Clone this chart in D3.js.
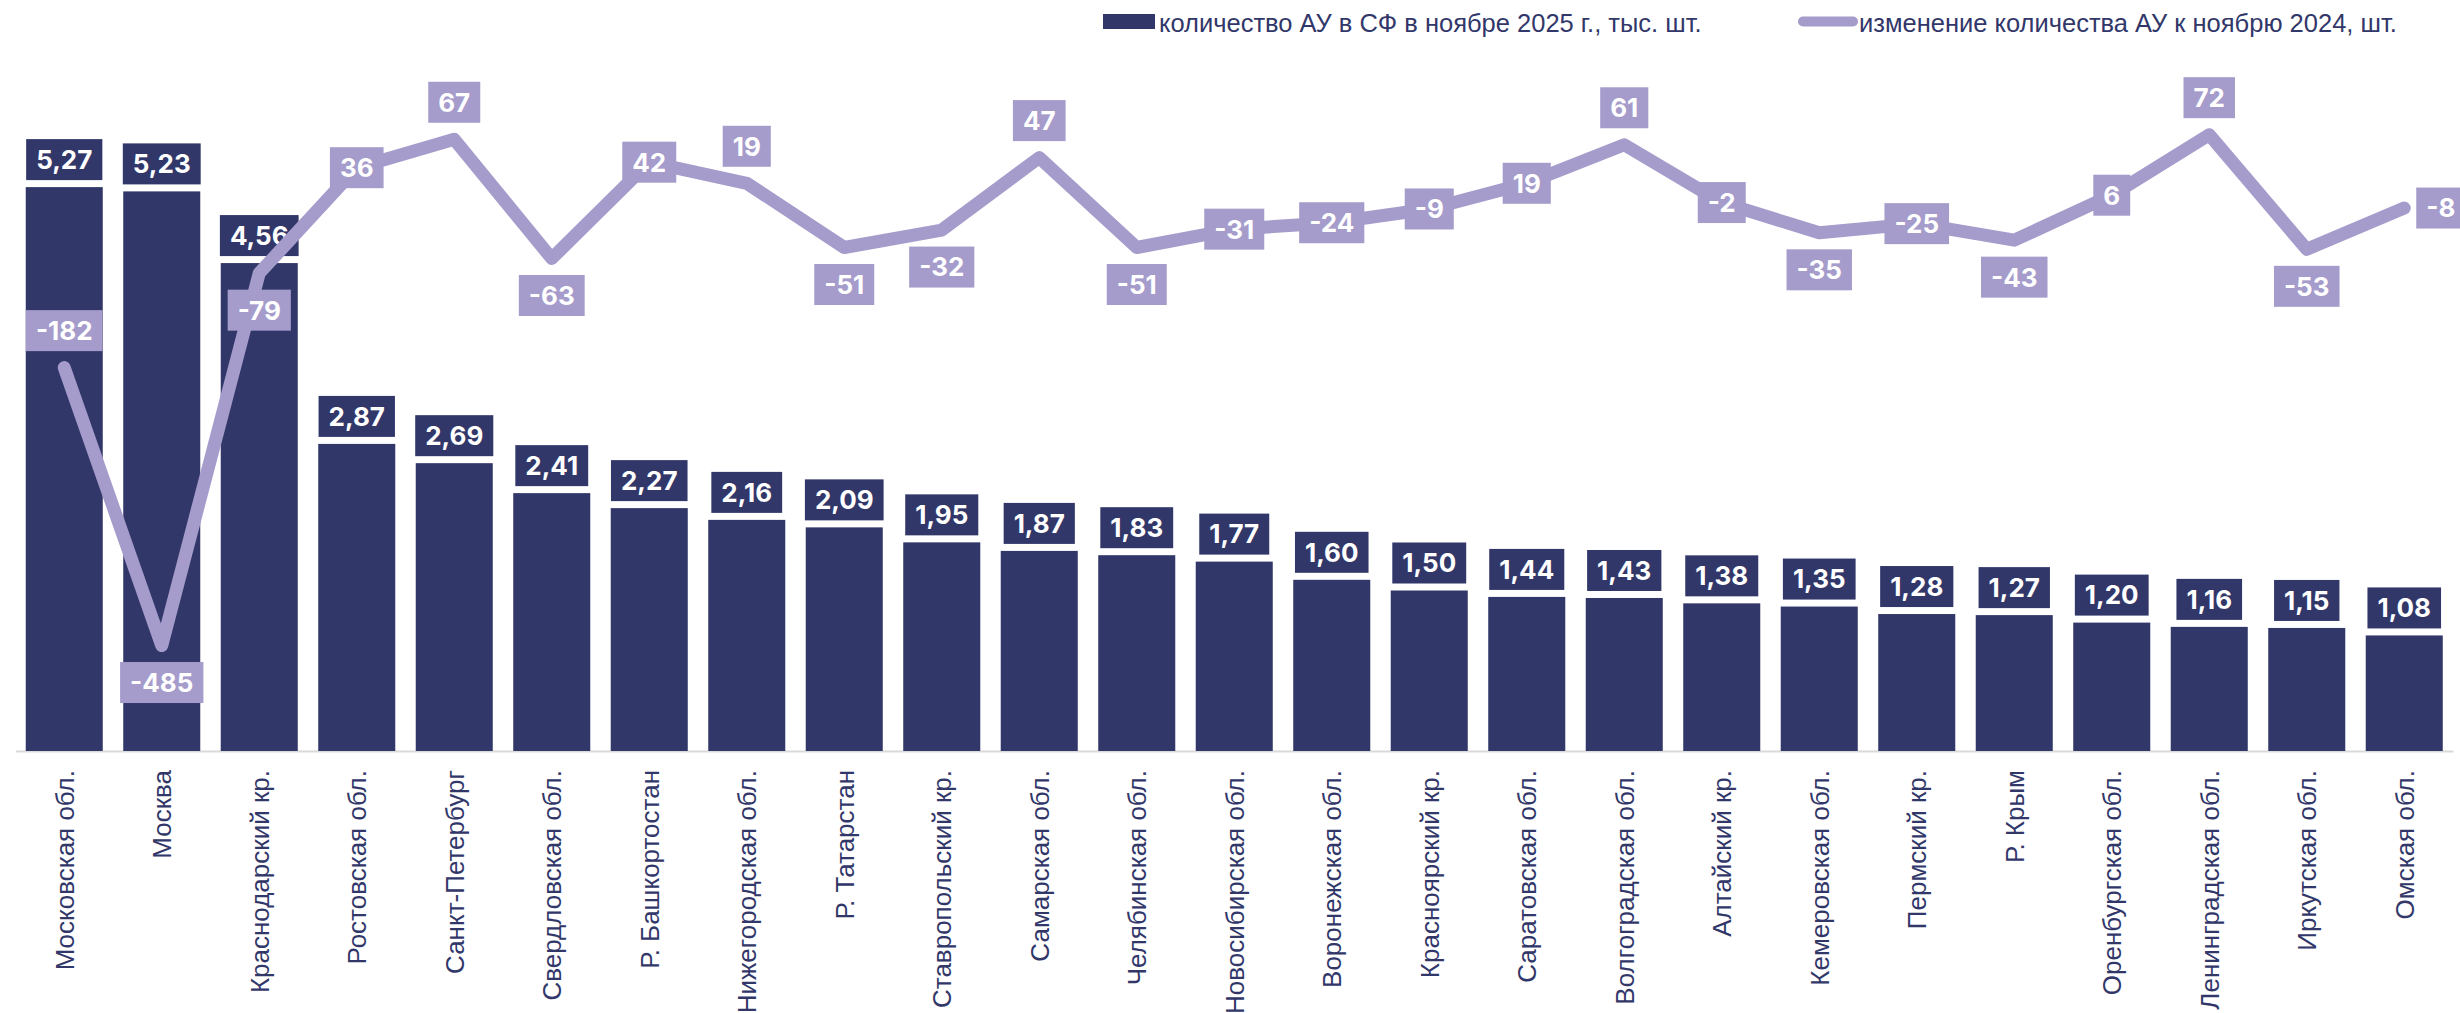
<!DOCTYPE html>
<html>
<head>
<meta charset="utf-8">
<script src="https://cdn.jsdelivr.net/npm/d3@7"></script>
<style>
  html, body { margin: 0; padding: 0; background: #ffffff; }
  svg { display: block; }
</style>
</head>
<body>
<svg id="chart" width="2460" height="1013"></svg>
<script>
const categories = [
  "Московская обл.", "Москва", "Краснодарский кр.", "Ростовская обл.", "Санкт-Петербург",
  "Свердловская обл.", "Р. Башкортостан", "Нижегородская обл.", "Р. Татарстан", "Ставропольский кр.",
  "Самарская обл.", "Челябинская обл.", "Новосибирская обл.", "Воронежская обл.", "Красноярский кр.",
  "Саратовская обл.", "Волгоградская обл.", "Алтайский кр.", "Кемеровская обл.", "Пермский кр.",
  "Р. Крым", "Оренбургская обл.", "Ленинградская обл.", "Иркутская обл.", "Омская обл."
];
const counts = [5.27, 5.23, 4.56, 2.87, 2.69, 2.41, 2.27, 2.16, 2.09, 1.95, 1.87, 1.83, 1.77, 1.60, 1.50,
  1.44, 1.43, 1.38, 1.35, 1.28, 1.27, 1.20, 1.16, 1.15, 1.08];
const changes = [-182, -485, -79, 36, 67, -63, 42, 19, -51, -32, 47, -51, -31, -24, -9,
  19, 61, -2, -35, -25, -43, 6, 72, -53, -8];
const changePlacement = ["above", "below", "below", "center", "above", "below", "center", "above", "below", "below",
  "above", "below", "center", "center", "center", "center", "above", "center", "below", "center",
  "below", "center", "above", "below", "right"];
const seriesNames = ["количество АУ в СФ в ноябре 2025 г., тыс. шт.", "изменение количества АУ к ноябрю 2024, шт."];
const countDomain = [0, 6];
const changeDomain = [-600, 100];

const BAR = "#32376a";
const LINE = "#a59ccb";
const TEXT = "#32376a";

const svg = d3.select("#chart");
const plotTop = 109, plotBottom = 751;

const x = d3.scaleBand().domain(categories).range([15.5, 2453]).paddingInner(0.21).paddingOuter(0.105);
const y = d3.scaleLinear().domain(countDomain).range([plotBottom, plotTop]);
const y2 = d3.scaleLinear().domain(changeDomain).range([plotBottom, plotTop]);
const cx = c => x(c) + x.bandwidth() / 2;
const fmt = v => v.toFixed(2).replace(".", ",");

// axis
const axis = svg.append("g").attr("transform", `translate(0,${plotBottom})`)
  .call(d3.axisBottom(x).tickSize(0).tickSizeOuter(0));
axis.select(".domain").attr("stroke", "#d9d9d9").attr("stroke-width", 2);
axis.selectAll(".tick text")
  .attr("transform", "rotate(-90)")
  .attr("text-anchor", "end")
  .attr("x", -19).attr("y", 0).attr("dy", "0.36em")
  .attr("fill", TEXT)
  .style("font-family", "'Liberation Sans', Arial, sans-serif")
  .style("font-size", "26px");

// bars
svg.append("g").selectAll("rect").data(counts).join("rect")
  .attr("x", (d, i) => x(categories[i]))
  .attr("y", d => y(d))
  .attr("width", x.bandwidth())
  .attr("height", d => y(0) - y(d))
  .attr("fill", BAR);

// bar labels
const boxH = 41, padX = 10;
svg.append("g").selectAll("g").data(counts).join("g").each(function (d, i) {
  const g = d3.select(this);
  const rect = g.append("rect").attr("fill", BAR);
  const t = g.append("text").text(fmt(d))
    .attr("fill", "#ffffff")
    .attr("text-anchor", "middle")
    .style("font-family", "Inter, sans-serif")
    .style("font-weight", 700)
    .style("font-size", "26px");
  const w = t.node().getComputedTextLength() + 2 * padX;
  const bx = cx(categories[i]);
  const boxBottom = y(d) - 7;
  rect.attr("x", bx - w / 2).attr("y", boxBottom - boxH).attr("width", w).attr("height", boxH);
  t.attr("x", bx).attr("y", boxBottom - boxH / 2).attr("dy", "0.36em");
});

// line
const line = d3.line().x((d, i) => cx(categories[i])).y(d => y2(d));
svg.append("path").datum(changes)
  .attr("d", line)
  .attr("fill", "none")
  .attr("stroke", LINE)
  .attr("stroke-width", 13)
  .attr("stroke-linejoin", "round")
  .attr("stroke-linecap", "round");

// line labels
const offset = 37;
svg.append("g").selectAll("g").data(changes).join("g").each(function (d, i) {
  const g = d3.select(this);
  const rect = g.append("rect").attr("fill", LINE);
  const t = g.append("text").text(d)
    .attr("fill", "#ffffff")
    .attr("text-anchor", "middle")
    .style("font-family", "Inter, sans-serif")
    .style("font-weight", 700)
    .style("font-size", "26px");
  const w = t.node().getComputedTextLength() + 2 * padX;
  let px = cx(categories[i]), py = y2(d);
  const pos = changePlacement[i];
  if (pos === "above") py -= offset;
  else if (pos === "below") py += offset;
  else if (pos === "right") px += 12 + w / 2;
  px = Math.max(px, 8 + w / 2);
  rect.attr("x", px - w / 2).attr("y", py - boxH / 2).attr("width", w).attr("height", boxH);
  t.attr("x", px).attr("y", py).attr("dy", "0.36em");
});

// legend
const legend = svg.append("g")
  .style("font-family", "'Liberation Sans', Arial, sans-serif")
  .style("font-size", "25.5px");
legend.append("rect").attr("x", 1103).attr("y", 14).attr("width", 52).attr("height", 15).attr("fill", BAR);
legend.append("text").attr("x", 1159).attr("y", 31.5).attr("fill", TEXT).text(seriesNames[0]);
legend.append("line").attr("x1", 1803).attr("x2", 1853).attr("y1", 21.5).attr("y2", 21.5)
  .attr("stroke", LINE).attr("stroke-width", 10).attr("stroke-linecap", "round");
legend.append("text").attr("x", 1859).attr("y", 31.5).attr("fill", TEXT).text(seriesNames[1]);
</script>
</body>
</html>
